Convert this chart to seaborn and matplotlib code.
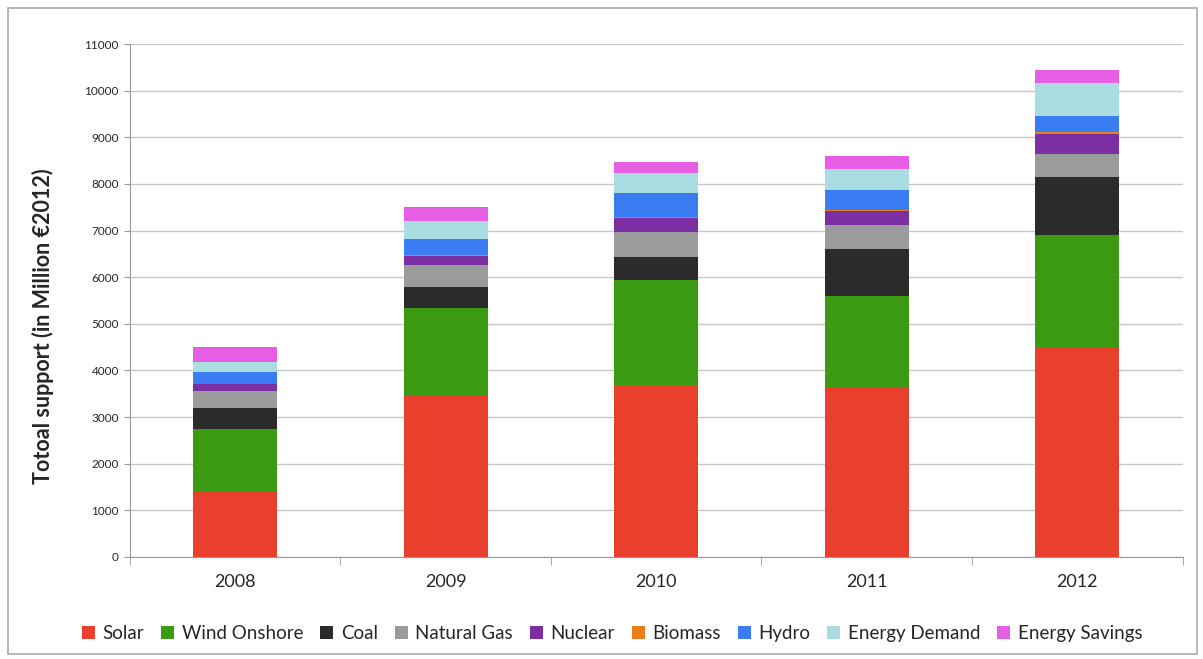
import numpy as np
import pandas as pd
import seaborn as sns
import matplotlib.pyplot as plt
from matplotlib.patches import Patch, Rectangle

# values (million EUR 2012)
years = ["2008", "2009", "2010", "2011", "2012"]
solar = [1420, 3450, 3680, 3640, 4500]
wind_onshore = [1320, 1880, 2270, 1960, 2400]
coal = [450, 450, 490, 1000, 1250]
natural_gas = [365, 480, 535, 515, 500]
nuclear = [150, 190, 285, 300, 415]
biomass = [10, 25, 35, 20, 50]
hydro = [255, 350, 500, 430, 335]
energy_demand = [215, 370, 430, 465, 715]
energy_savings = [320, 320, 250, 270, 270]

sources = ["Solar", "Wind Onshore", "Coal", "Natural Gas", "Nuclear",
           "Biomass", "Hydro", "Energy Demand", "Energy Savings"]
values = [solar, wind_onshore, coal, natural_gas, nuclear,
          biomass, hydro, energy_demand, energy_savings]
colors = ["#e8402c", "#3c9a12", "#2b2b2b", "#9b9b9b", "#7c2ea3",
          "#ec7d1c", "#3a7cf2", "#a9dde2", "#e55ee3"]

df = pd.DataFrame(dict(zip(sources, values)), index=years)
cum = df.cumsum(axis=1)

sns.set_style("white")
plt.rcParams["font.family"] = ["Lato", "DejaVu Sans"]

fig = plt.figure(figsize=(12.03, 6.59), dpi=100)
ax = fig.add_axes([0.108, 0.1548, 0.875, 0.7784])

# stacked bars: draw cumulative totals from top layer down
for src, col in zip(reversed(sources), reversed(colors)):
    sns.barplot(x=years, y=cum[src].values, color=col, saturation=1,
                width=0.4, ax=ax, zorder=3, linewidth=0, edgecolor="none")

ax.set_ylim(0, 11000)
ax.set_yticks(np.arange(0, 11001, 1000))
ax.set_xlim(-0.5, 4.5)
ax.grid(axis="y", color="#c8c8c8", linewidth=1, zorder=0)
ax.set_axisbelow(True)

for s in ["top", "right"]:
    ax.spines[s].set_visible(False)
ax.spines["left"].set_color("#999999")
ax.spines["bottom"].set_color("#999999")

ax.tick_params(axis="y", labelsize=8.5, length=4, color="#999999", left=True, pad=4)
ax.tick_params(axis="x", labelsize=13, length=0, pad=12)
ax.set_xticks(np.arange(-0.5, 4.6, 1), minor=True)
ax.tick_params(axis="x", which="minor", length=6, color="#999999", bottom=True)

ax.set_ylabel("Totoal support (in Million €2012)", fontsize=15.5, fontweight="bold")
ax.yaxis.set_label_coords(-0.072, 0.45)
ax.set_xlabel("")

handles = [Patch(facecolor=c, edgecolor="none") for c in colors]
fig.legend(handles, sources, loc="center", bbox_to_anchor=(0.509, 0.039),
           ncol=9, frameon=False, fontsize=13.5, handlelength=0.7,
           handleheight=0.7, handletextpad=0.4, columnspacing=0.9)

# outer frame
fig.patches.append(Rectangle((0.007, 0.008), 0.988, 0.98, transform=fig.transFigure,
                             fill=False, edgecolor="#aaaaaa", linewidth=1.2))

fig.savefig("out.png", dpi=100)
